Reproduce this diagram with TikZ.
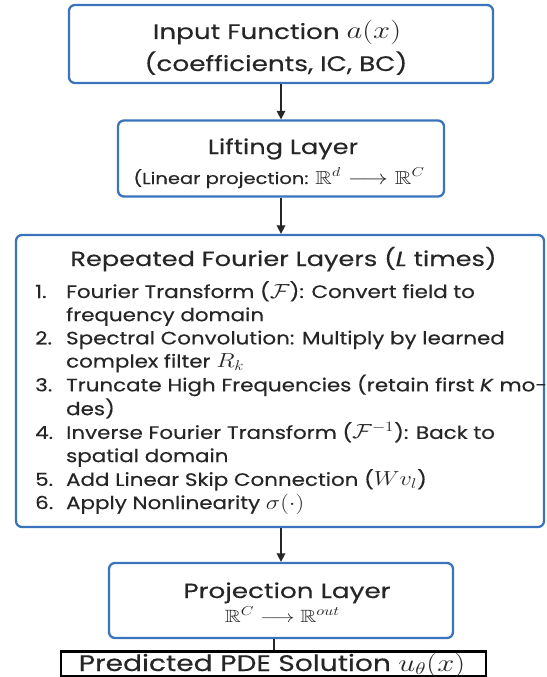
\documentclass[tikz,border=0pt]{standalone}
\usepackage{amsmath,amssymb}
\usepackage{fontspec}
\setmainfont{Poppins}[FakeBold=0.3]
\usetikzlibrary{arrows.meta}
\definecolor{boxblue}{HTML}{3A74BC}
\definecolor{ink}{HTML}{262626}
\newcommand\mm[1]{\scalebox{1.18}{$#1$}}
\newcommand\wide[1]{\scalebox{1.25}[1]{#1}}
\begin{document}
\begin{tikzpicture}[x=1pt,y=-1pt,
  blk/.style={draw=boxblue, line width=2.3pt, rounded corners=6pt, fill=white, inner sep=0pt},
  outbox/.style={draw=black, line width=2.5pt, fill=white, inner sep=0pt},
  conn/.style={draw=ink, line width=1.6pt, -{Triangle[length=8.5pt,width=8.5pt]}},
  plain/.style={draw=ink, line width=2pt},
  txt/.style={text=ink, inner sep=0pt, anchor=base},
  fA/.style={font=\fontsize{21}{25}\selectfont},
  fB/.style={font=\fontsize{20.5}{24}\selectfont},
  fC/.style={font=\fontsize{16}{20}\selectfont},
  fD/.style={font=\fontsize{18}{23.2}\selectfont}]
\useasboundingbox (0,0) rectangle (546,677);
\fill[white] (0,0) rectangle (546,677);
\begin{scope}
\clip (0,0) rectangle (546,677);
% boxes
\node[blk, minimum width=424pt, minimum height=78pt] (b1) at (281,44) {};
\node[blk, minimum width=326pt, minimum height=76pt] (b2) at (281,158.5) {};
\node[blk, minimum width=528pt, minimum height=292pt] (b3) at (280,381) {};
\node[blk, minimum width=344pt, minimum height=75pt] (b4) at (281,600.5) {};
\node[outbox, minimum width=425pt, minimum height=25pt] (b5) at (273.5,664) {};
% texts
\node[txt, fA] (t1a) at (277,39) {\wide{Input Function \mm{a(x)}}};
\node[txt, fA] (t1b) at (276,71) {\wide{(coefficients, IC, BC)}};
\node[txt, fB] (t2a) at (283,154) {\wide{Lifting Layer}};
\node[txt, fC] (t2b) at (279,184) {\scalebox{1.22}[1]{(Linear projection: \mm{\mathbb{R}^d \longrightarrow \mathbb{R}^C}}};
\node[txt, fB] (t3a) at (283.5,266) {\wide{Repeated Fourier Layers (\textit{L} times)}};
\node[txt, fD, anchor=base west] (t3b) at (35,298) {\scalebox{1.19}[1]{\begin{tabular}[t]{@{}p{26pt}@{}l@{}}
1. & Fourier Transform (\mm{\mathcal{F}}): Convert field to\\
   & frequency domain\\
2. & Spectral Convolution: Multiply by learned\\
   & complex filter \mm{R_k}\\
3. & Truncate High Frequencies (retain first \textit{K} mo-\\
   & des)\\
4. & Inverse Fourier Transform (\mm{\mathcal{F}^{-1}}): Back to\\
   & spatial domain\\
5. & Add Linear Skip Connection (\mm{Wv_l})\\
6. & Apply Nonlinearity \mm{\sigma(\cdot)}
\end{tabular}}};
\node[txt, fB] (t4a) at (287,598) {\scalebox{1.28}[1]{Projection Layer}};
\node[txt, font=\fontsize{15}{18}\selectfont] (t4b) at (282.5,622) {\wide{\mm{\mathbb{R}^C \longrightarrow \mathbb{R}^{out}}}};
\node[txt, font=\fontsize{22.5}{26}\selectfont] (t5) at (272,671) {\wide{Predicted PDE Solution \mm{u_\theta(x)}}};
% connectors
\draw[conn] (b1.south) -- (b2.north);
\draw[conn] (b2.south) -- (b2.south |- b3.north);
\draw[conn] (b4.north |- b3.south) -- (b4.north);
\draw[plain] (b4.south -| b5.north) -- (b5.north);
\end{scope}
\end{tikzpicture}
\end{document}
